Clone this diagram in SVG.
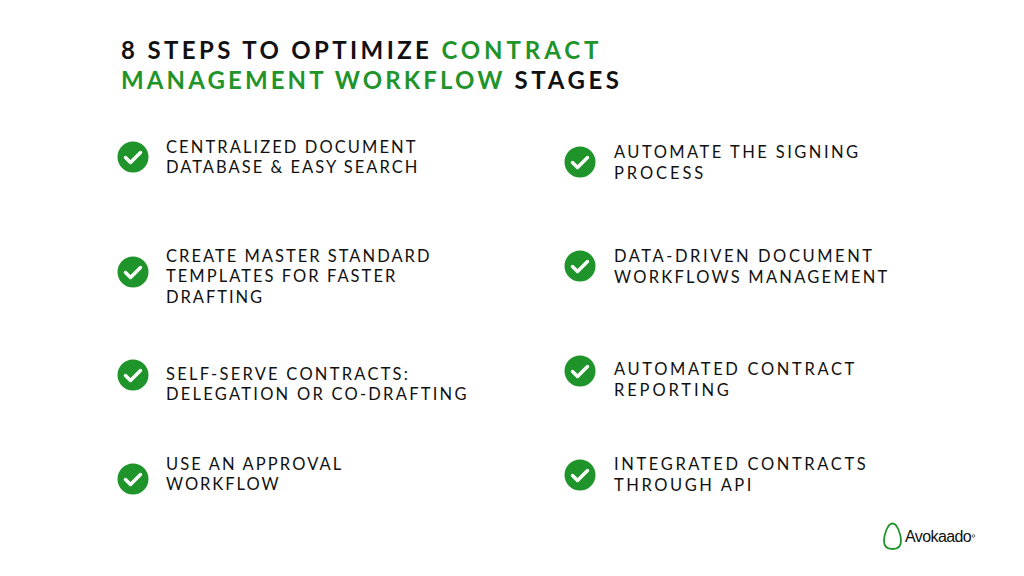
<svg xmlns="http://www.w3.org/2000/svg" width="1024" height="576" viewBox="0 0 1024 576">
<style>
text{font-family:"Lato","Liberation Sans",sans-serif;fill:#111}
.h{font-size:24px;font-weight:700;letter-spacing:3.27px}
.g{fill:#1f942b}
.t{font-size:16.5px;letter-spacing:2.25px}
.c{fill:#1f942b}
.k{fill:none;stroke:#fff;stroke-width:3.4;stroke-linecap:round;stroke-linejoin:round}
</style>
<defs><g id="chk"><circle class="c" r="15.500"/><path class="k" d="M-7.500 0.500L-2.500 5.500L7.500-4.500"/></g></defs>
<g id="title">
<text class="h" x="121" y="59" style="letter-spacing:3.37px">8 STEPS TO OPTIMIZE <tspan class="g" style="letter-spacing:3.9px">CONTRACT</tspan></text>
<text class="h" x="121" y="89"><tspan class="g" style="letter-spacing:3.11px">MANAGEMENT WORKFLOW</tspan> <tspan style="letter-spacing:3.6px">STAGES</tspan></text>
</g>
<g id="step1"><use href="#chk" x="133" y="157"/><text class="t" x="166" y="152.500" style="letter-spacing:2.09px">CENTRALIZED DOCUMENT</text><text class="t" x="166" y="173" style="letter-spacing:2.01px">DATABASE &amp; EASY SEARCH</text></g>
<g id="step2"><use href="#chk" x="133" y="272"/><text class="t" x="166" y="262" style="letter-spacing:2.01px">CREATE MASTER STANDARD</text><text class="t" x="166" y="282" style="letter-spacing:2.04px">TEMPLATES FOR FASTER</text><text class="t" x="166" y="303" style="letter-spacing:1.96px">DRAFTING</text></g>
<g id="step3"><use href="#chk" x="133" y="375"/><text class="t" x="166" y="380">SELF-SERVE CONTRACTS:</text><text class="t" x="166" y="400">DELEGATION OR CO-DRAFTING</text></g>
<g id="step4"><use href="#chk" x="133" y="479"/><text class="t" x="166" y="470" style="letter-spacing:2.11px">USE AN APPROVAL</text><text class="t" x="166" y="490" style="letter-spacing:1.96px">WORKFLOW</text></g>
<g id="step5"><use href="#chk" x="580" y="162"/><text class="t" x="614" y="157.500" style="letter-spacing:2.46px">AUTOMATE THE SIGNING</text><text class="t" x="614" y="179" style="letter-spacing:2.9px">PROCESS</text></g>
<g id="step6"><use href="#chk" x="580" y="266"/><text class="t" x="614" y="262" style="letter-spacing:2.57px">DATA-DRIVEN DOCUMENT</text><text class="t" x="614" y="283">WORKFLOWS MANAGEMENT</text></g>
<g id="step7"><use href="#chk" x="580" y="371"/><text class="t" x="614" y="375" style="letter-spacing:2.66px">AUTOMATED CONTRACT</text><text class="t" x="614" y="396" style="letter-spacing:2.87px">REPORTING</text></g>
<g id="step8"><use href="#chk" x="580" y="475"/><text class="t" x="614" y="470" style="letter-spacing:2.62px">INTEGRATED CONTRACTS</text><text class="t" x="614" y="491" style="letter-spacing:2.55px">THROUGH API</text></g>
<g id="logo">
<path d="M892.500 523.500C887.500 523.500 884 535 884 541C884 547 887.500 549 892.500 549C897.500 549 901 547 901 541C901 535 897.500 523.500 892.500 523.500Z" fill="none" stroke="#1f942b" stroke-width="1.800"/>
<text x="905" y="542" font-size="16" style="font-family:'Liberation Sans',sans-serif" letter-spacing="-0.6">Avokaado</text>
<circle cx="973.500" cy="536" r="1.300" fill="none" stroke="#333" stroke-width="0.700"/>
</g>
</svg>
